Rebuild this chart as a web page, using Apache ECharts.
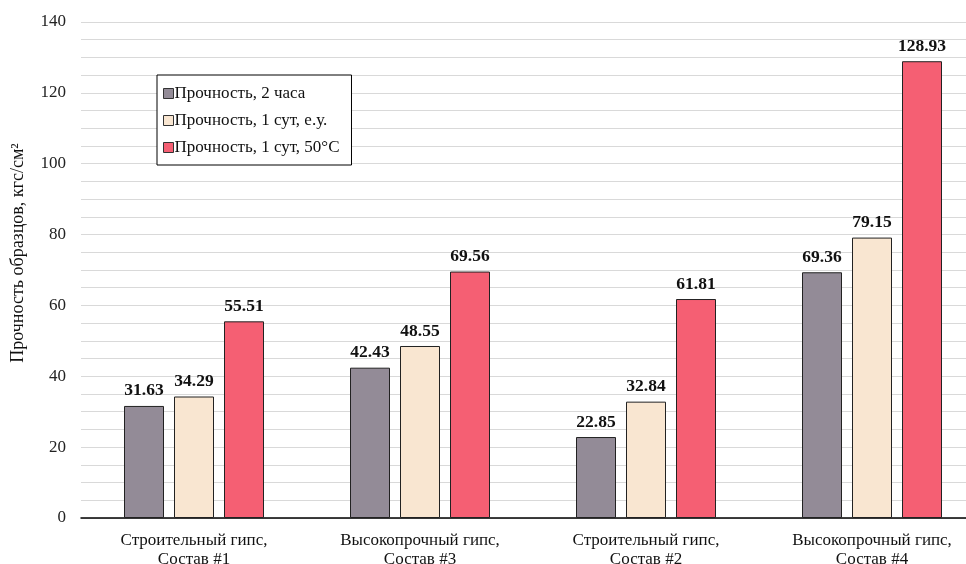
<!DOCTYPE html>
<html><head><meta charset="utf-8">
<script src="https://cdn.jsdelivr.net/npm/echarts@6/dist/echarts.min.js"></script>
<style>html,body{margin:0;padding:0;background:#fff}#c{width:966px;height:564px}</style>
</head><body><div id="c"></div>
<script>
const categories = ['Строительный гипс,\nСостав #1','Высокопрочный гипс,\nСостав #3','Строительный гипс,\nСостав #2','Высокопрочный гипс,\nСостав #4'];
const seriesNames = ['Прочность, 2 часа','Прочность, 1 сут, е.у.','Прочность, 1 сут, 50°С'];
const s2h = [31.63, 42.43, 22.85, 69.36];
const s1d = [34.29, 48.55, 32.84, 79.15];
const s1d50 = [55.51, 69.56, 61.81, 128.93];
const colors = ['#938B97','#F9E6D1','#F55F73'];
const font = '"Liberation Serif","Times New Roman",serif';
const chart = echarts.init(document.getElementById('c'));
const mk = (name, data, color) => ({
  name, type:'bar', data, barWidth:40, barGap:'25%',
  itemStyle:{color, borderColor:'#222', borderWidth:1},
  label:{show:true, position:'top', distance:6, fontFamily:font, fontWeight:'bold', fontSize:17.5, color:'#111', formatter:p=>p.value.toFixed(2)}
});
chart.setOption({
  animation:false,
  textStyle:{fontFamily:font},
  grid:{left:81, top:22, width:904, bottom:46, containLabel:false, outerBoundsMode:'none'},
  legend:{orient:'vertical', left:157, top:75, padding:[10,12,9,6], itemGap:10, itemWidth:10, itemHeight:10,
    borderColor:'#000', borderWidth:1, backgroundColor:'#fff',
    textStyle:{fontFamily:font, fontSize:17, color:'#111', padding:[0,0,0,-4]},
    data:seriesNames.map((n,i)=>({name:n, icon:'rect', itemStyle:{borderColor:'#333', borderWidth:1}}))},
  xAxis:{type:'category', data:categories,
    axisLine:{lineStyle:{color:'#000', width:1.5}}, axisTick:{show:false},
    axisLabel:{fontFamily:font, fontSize:17, color:'#111', margin:13, lineHeight:19, interval:0}},
  yAxis:{type:'value', min:0, max:140, interval:5,
    name:'Прочность образцов, кгс/см²', nameLocation:'middle', nameGap:54, nameRotate:90,
    nameTextStyle:{fontFamily:font, fontSize:18, color:'#111', padding:[0,0,0,34]},
    axisLine:{show:false}, axisTick:{show:false},
    axisLabel:{fontFamily:font, fontSize:17, color:'#222', margin:15, formatter:v=>v%20===0?String(v):''},
    splitLine:{lineStyle:{color:'#d9d9d9', width:1}}},
  series:[mk(seriesNames[0], s2h, colors[0]), mk(seriesNames[1], s1d, colors[1]), mk(seriesNames[2], s1d50, colors[2])]
});
</script></body></html>
